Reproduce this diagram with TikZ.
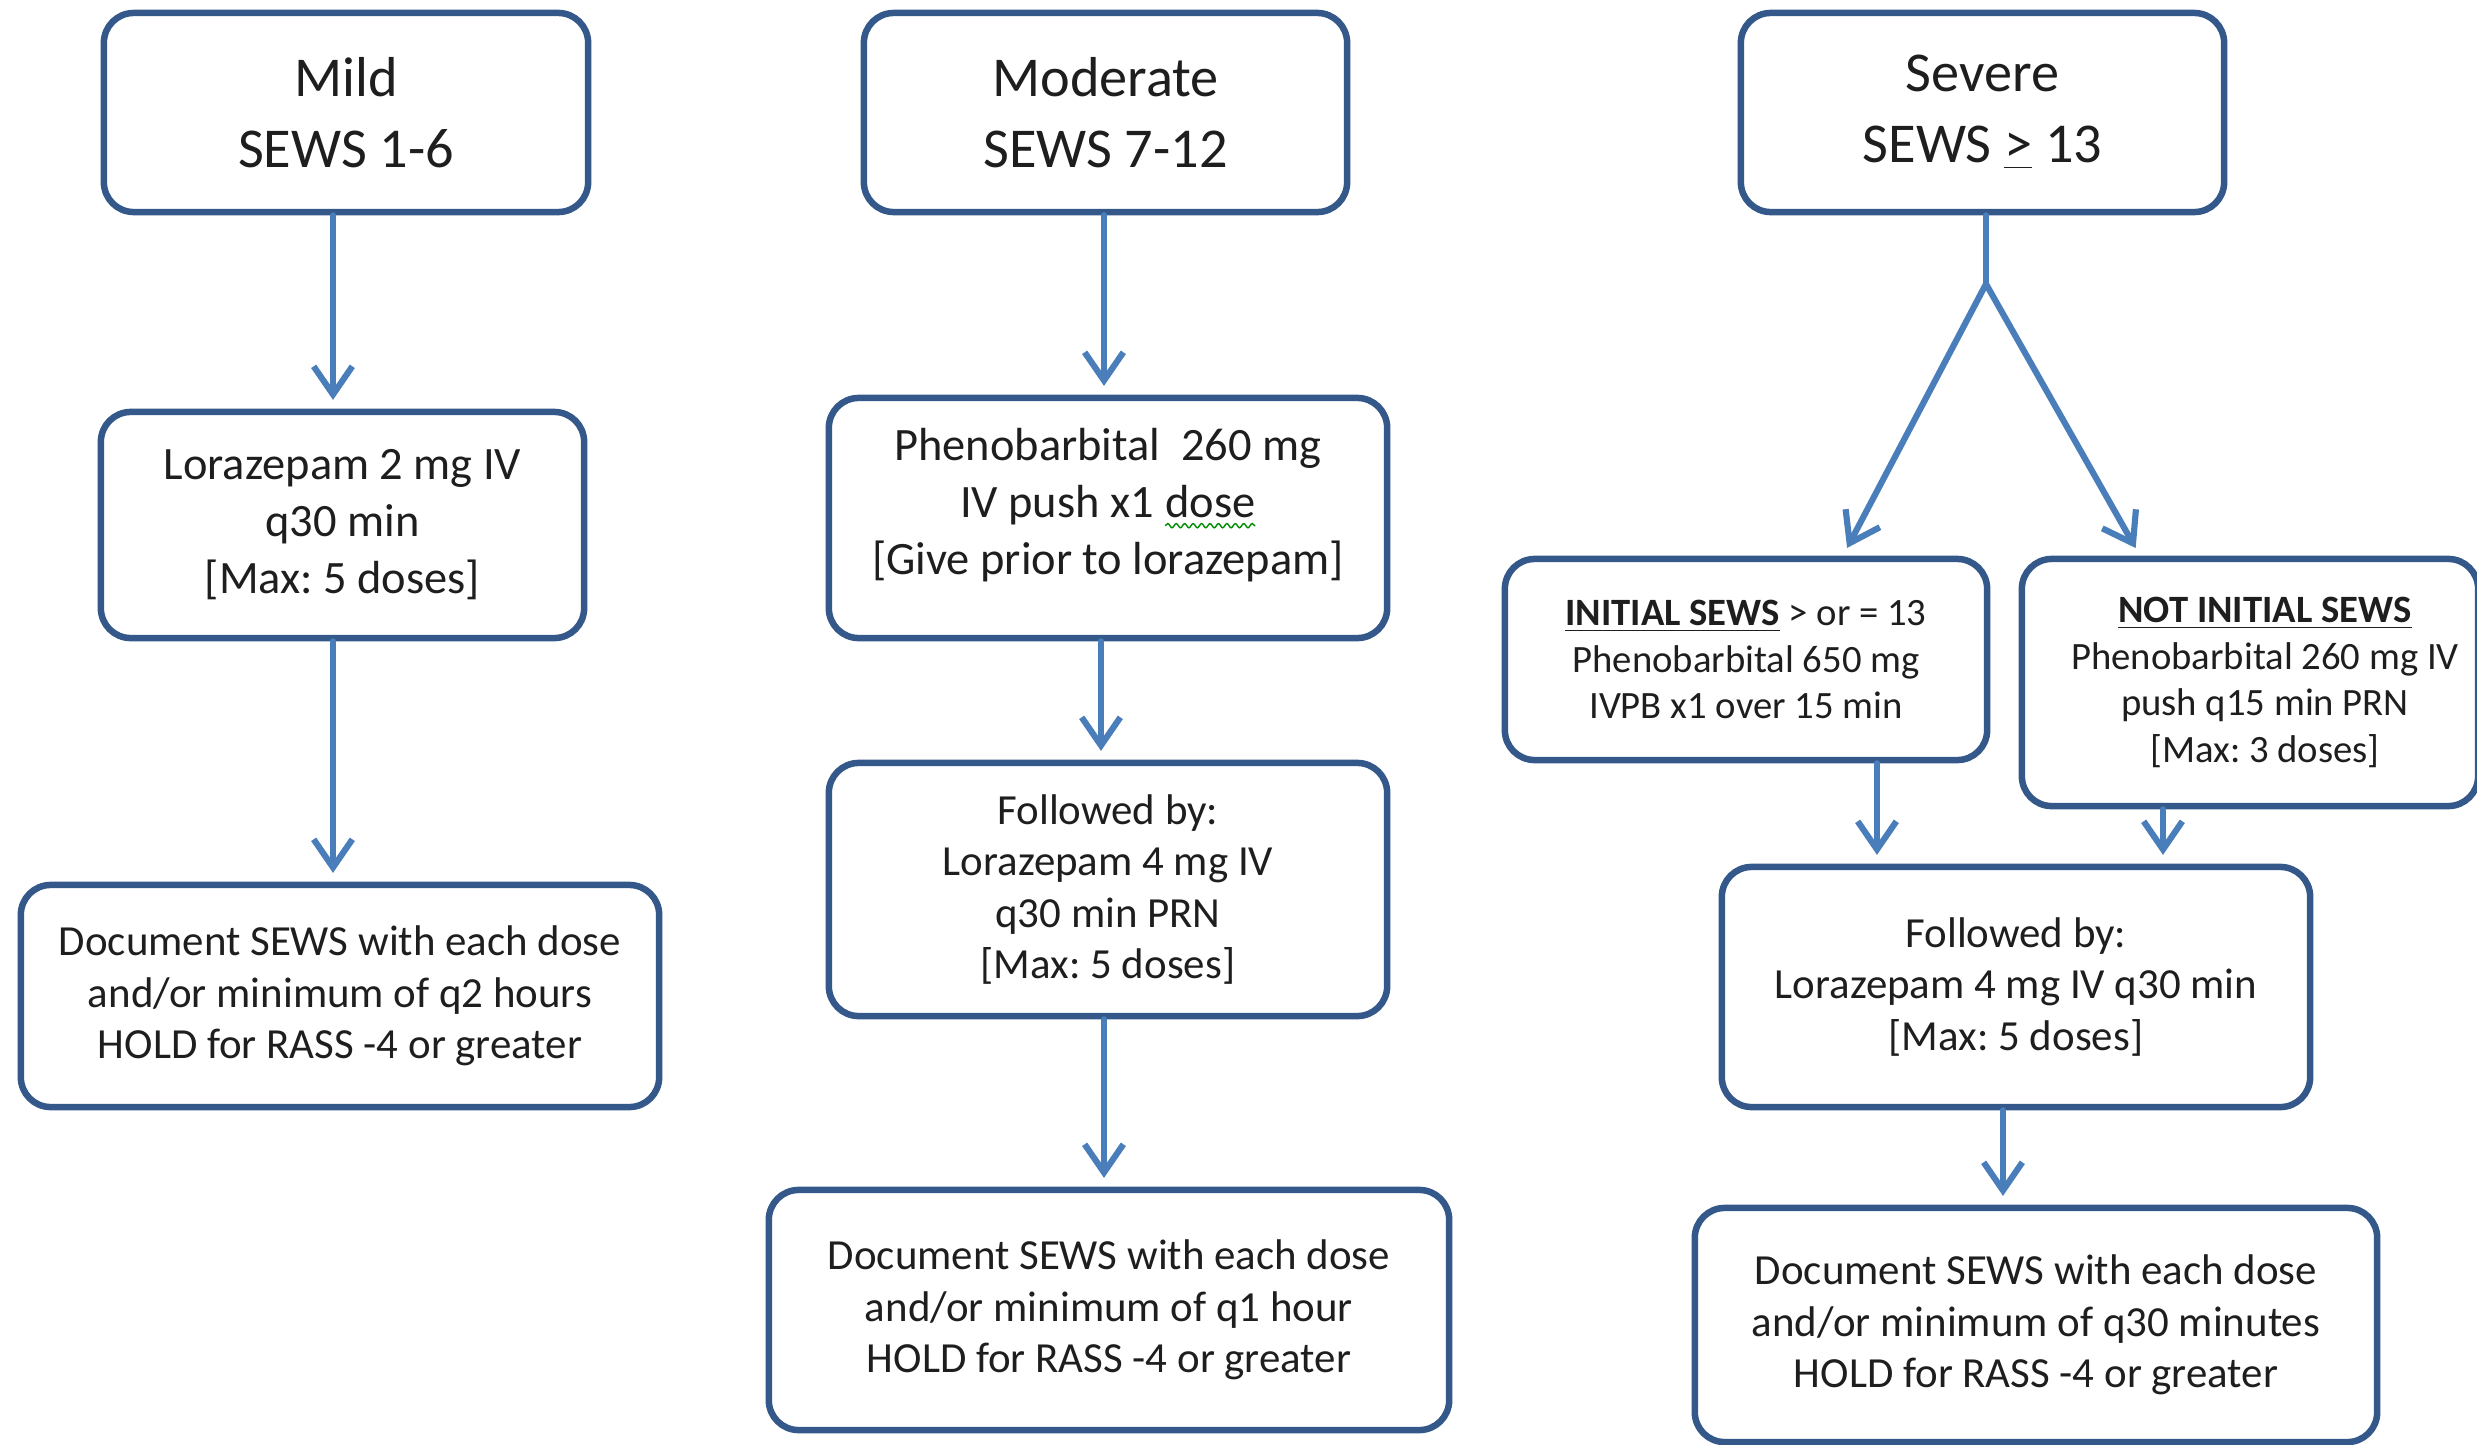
\documentclass[tikz,border=0pt]{standalone}
\usepackage{fontspec}
\setmainfont{Carlito}
\usetikzlibrary{arrows.meta,decorations.pathmorphing}
\definecolor{boxblue}{RGB}{52,88,138}
\definecolor{arrblue}{RGB}{74,126,187}
\definecolor{txt}{RGB}{30,30,30}
\frenchspacing
\newcommand\wavyword[1]{\tikz[baseline=0pt,x=1pt,y=1pt,sharp corners]{\node[draw=none,fill=none,inner sep=0pt,outer sep=0pt,minimum width=0pt,minimum height=0pt,anchor=base west,text=txt] (dosew) at (0,0) {#1};
  \draw[draw=green!55!black,line width=0.4pt,decorate,decoration={snake,amplitude=0.6pt,segment length=2.4pt}] ([yshift=-2.4pt]dosew.base west) -- ([yshift=-2.4pt]dosew.base east);}}
\begin{document}
\begin{tikzpicture}[x=0.01cm,y=-0.01cm,
  box/.style={draw=boxblue, line width=1.85pt, rounded corners=8.5pt, fill=white,
    align=center, inner sep=0pt, text=txt},
  ttl/.style={box, font=\fontsize{16}{20.2}\selectfont},
  bodyA/.style={box, font=\fontsize{13.2}{16.2}\selectfont},
  bodyB/.style={box, font=\fontsize{12.2}{14.6}\selectfont},
  bodyC/.style={box, font=\fontsize{11}{13.3}\selectfont},
  conn/.style={draw=arrblue, line width=1.75pt, line cap=round},
  arr/.style={conn, -{Straight Barb[length=8pt,width=11pt]}, shorten >=2.5pt}]
\useasboundingbox (0,0) rectangle (2477,1445);
\fill[white] (0,0) rectangle (2477,1445);

% Mild column
\node[ttl, minimum width=4.84cm, minimum height=1.99cm] (mild) at (346,112.5) {Mild\\SEWS 1-6};
\node[bodyA, minimum width=4.83cm, minimum height=2.26cm] (lorm) at (342.5,525) {Lorazepam 2 mg IV\\q30 min\\{[}Max: 5 doses{]}};
\node[bodyB, minimum width=6.38cm, minimum height=2.22cm] (docm) at (340,996) {Document SEWS with each dose\\and/or minimum of q2 hours\\HOLD for RASS -4 or greater};

% Moderate column
\node[ttl, minimum width=4.83cm, minimum height=1.99cm] (mod) at (1105.5,112.5) {Moderate\\SEWS 7-12};
\node[bodyA, minimum width=5.58cm, minimum height=2.40cm] (phen) at (1108,518) {Phenobarbital\ \ 260 mg\\IV push x1 \wavyword{dose}\\{[}Give prior to lorazepam{]}\\[-0.5em]\mbox{}};
\node[bodyB, minimum width=5.58cm, minimum height=2.53cm] (follm) at (1108,889.5) {Followed by:\\Lorazepam 4 mg IV\\q30 min PRN\\{[}Max: 5 doses{]}};
\node[bodyB, minimum width=6.80cm, minimum height=2.40cm] (docmod) at (1109,1310) {Document SEWS with each dose\\and/or minimum of q1 hour\\HOLD for RASS -4 or greater};

% Severe column
\node[ttl, minimum width=4.83cm, minimum height=1.99cm] (sev) at (1982.5,112.5) {Severe\\SEWS \underline{>} 13};
\node[bodyC, minimum width=4.82cm, minimum height=2.01cm] (ini) at (1746,659.5) {\textbf{\underline{INITIAL SEWS}} > or = 13\\Phenobarbital 650 mg\\IVPB x1 over 15 min};
\node[bodyC, minimum width=4.56cm, minimum height=2.47cm] (noti) at (2250,682.5) {\hspace*{0.3cm}\textbf{\underline{NOT INITIAL SEWS}}\\\hspace*{0.3cm}Phenobarbital 260 mg IV\\\hspace*{0.3cm}push q15 min PRN\\\hspace*{0.3cm}{[}Max: 3 doses{]}};
\node[bodyB, minimum width=5.88cm, minimum height=2.40cm] (folls) at (2016,987) {Followed by:\\Lorazepam 4 mg IV q30 min\\{[}Max: 5 doses{]}};
\node[bodyB, minimum width=6.82cm, minimum height=2.34cm] (docs) at (2036,1325) {Document SEWS with each dose\\and/or minimum of q30 minutes\\HOLD for RASS -4 or greater};

% x positions of connectors
\coordinate (xa) at (333,0);
\coordinate (xb) at (1104,0);
\coordinate (xc) at (1101,0);
\coordinate (split) at (1986,284);
\coordinate (e1) at (1843,0);
\coordinate (e2) at (2140,0);
\coordinate (xd) at (1877,0);
\coordinate (xe) at (2163,0);
\coordinate (xf) at (2003,0);

% Mild connectors
\draw[arr] (mild.south -| xa) -- (lorm.north -| xa);
\draw[arr] (lorm.south -| xa) -- (docm.north -| xa);
% Moderate connectors
\draw[arr] (mod.south -| xb) -- (phen.north -| xb);
\draw[arr] (phen.south -| xc) -- (follm.north -| xc);
\draw[arr] (follm.south -| xb) -- (docmod.north -| xb);
% Severe connectors
\draw[conn] (sev.south -| split) -- (split);
\draw[arr] (split) -- (ini.north -| e1);
\draw[arr] (split) -- (noti.north -| e2);
\draw[arr] (ini.south -| xd) -- (folls.north -| xd);
\draw[arr] (noti.south -| xe) -- (folls.north -| xe);
\draw[arr] (folls.south -| xf) -- (docs.north -| xf);
\end{tikzpicture}
\end{document}
